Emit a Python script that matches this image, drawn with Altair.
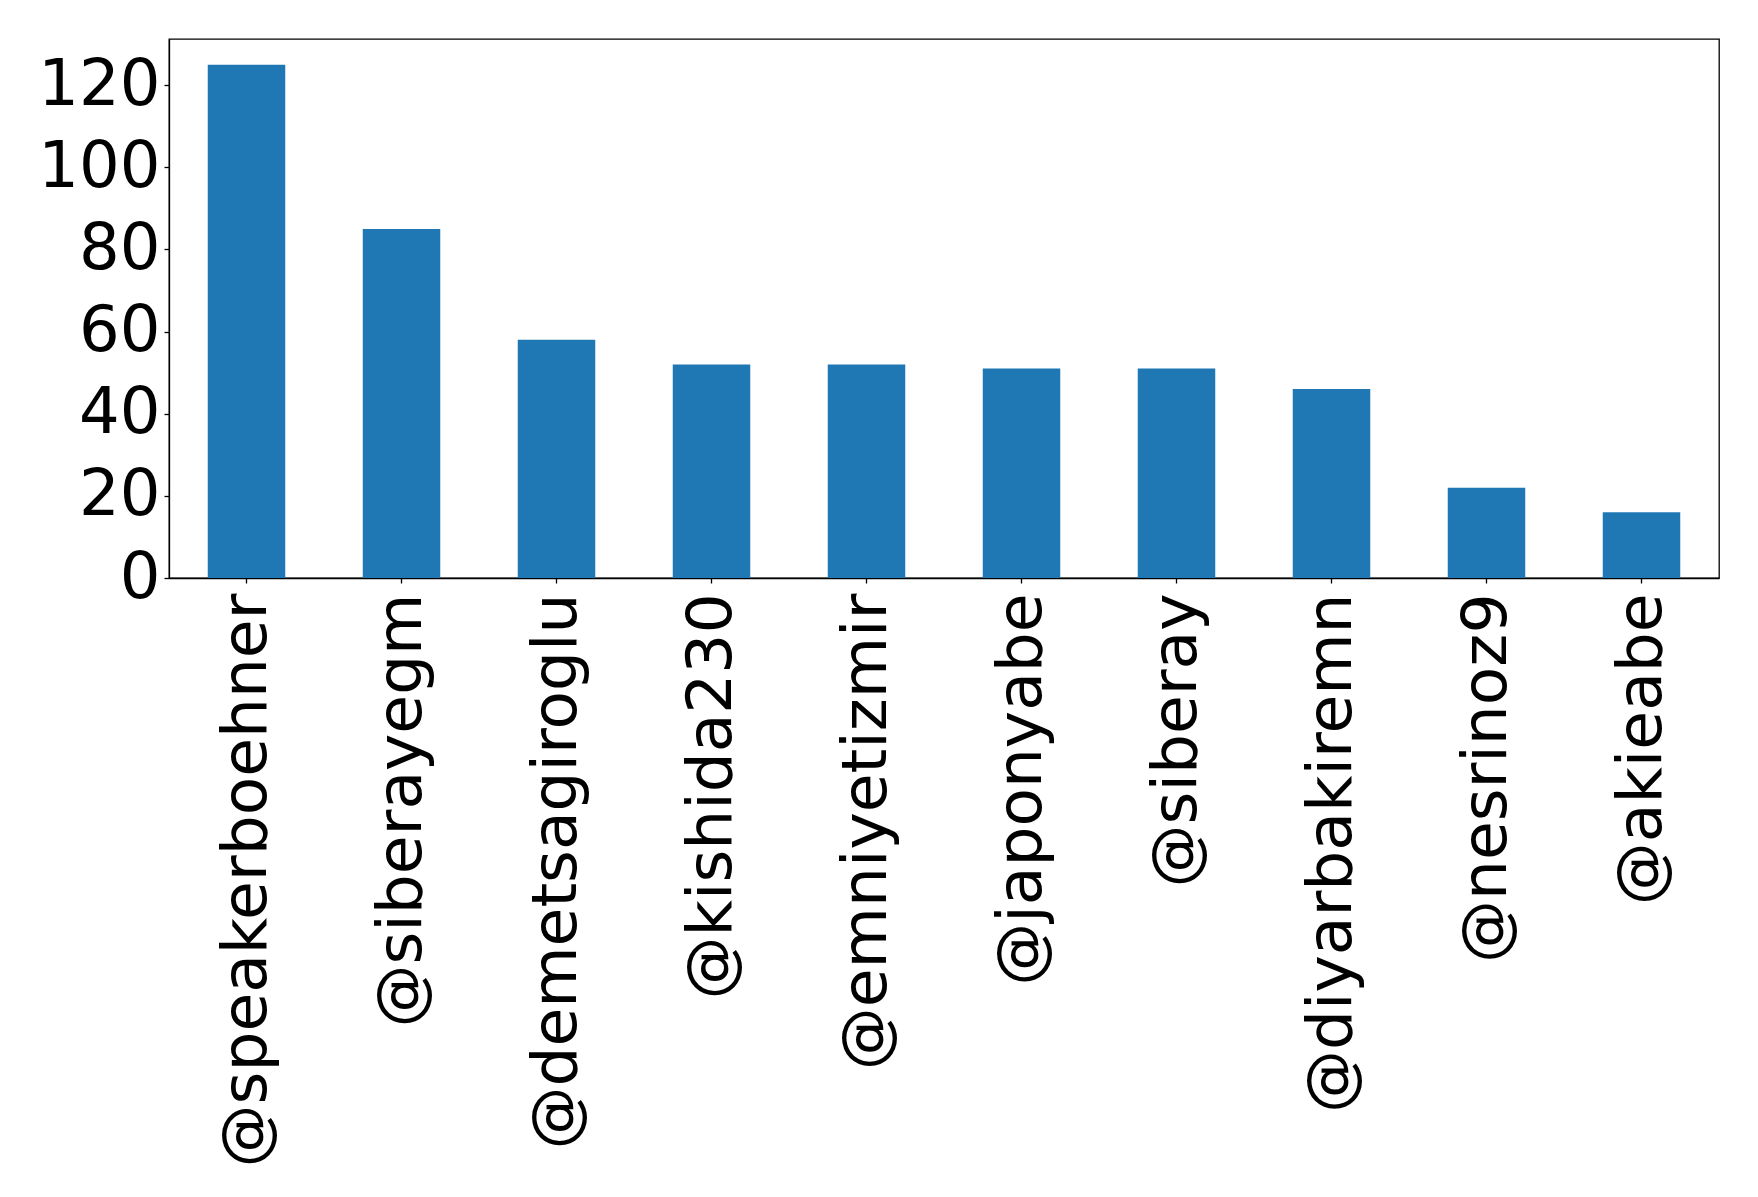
import altair as alt
import pandas as pd

users = ["@speakerboehner", "@siberayegm", "@demetsagiroglu", "@kishida230",
         "@emniyetizmir", "@japonyabe", "@siberay", "@diyarbakiremn",
         "@nesrinoz9", "@akieabe"]
counts = [125, 85, 58, 52, 52, 51, 51, 46, 22, 16]
y_ticks = [0, 20, 40, 60, 80, 100, 120]

df = pd.DataFrame({"user": users, "count": counts})

chart = alt.Chart(df).mark_bar(color="#1f77b4").encode(
    x=alt.X("user:N", sort=users, title=None,
            scale=alt.Scale(paddingInner=0.5, paddingOuter=0.25),
            axis=alt.Axis(labelAngle=270, labelFontSize=63, labelFont="DejaVu Sans",
                          labelColor="black", tickColor="black", tickSize=5,
                          labelPadding=10, domainColor="black", domainWidth=1.3,
                          tickWidth=1.3, labelLimit=1000, grid=False)),
    y=alt.Y("count:Q", title=None,
            scale=alt.Scale(domain=[0, 131.25], nice=False, zero=True),
            axis=alt.Axis(values=y_ticks, labelFontSize=64, labelFont="DejaVu Sans",
                          labelColor="black", tickColor="black", tickSize=5,
                          labelPadding=4, domainColor="black", domainWidth=1.3,
                          tickWidth=1.3, grid=False, labelFlush=False)),
).properties(
    width=1550, height=539,
    autosize=alt.AutoSizeParams(type="none"),
    padding={"left": 161, "top": 31, "right": 30, "bottom": 600},
).configure_view(stroke="black", strokeWidth=1.3)

chart.save("out.html", embed_options={"renderer": "svg", "actions": False})
